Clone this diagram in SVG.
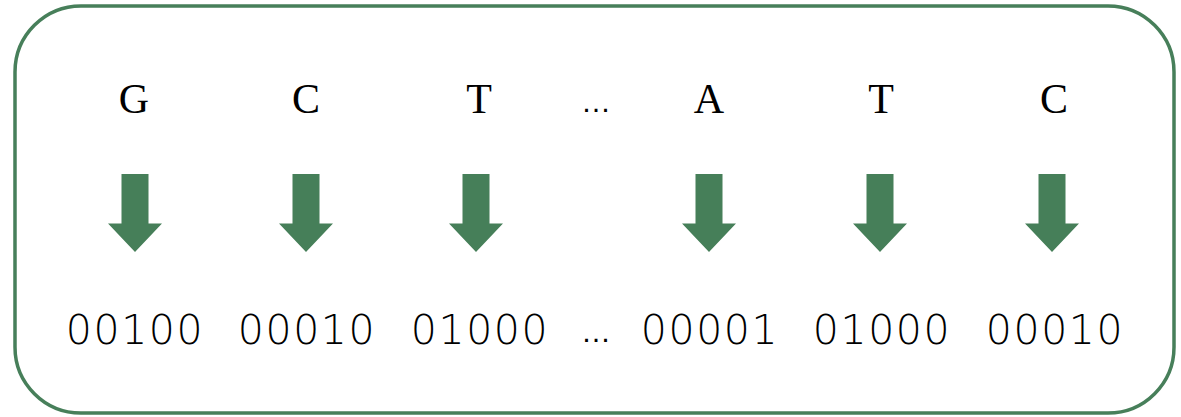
<svg xmlns="http://www.w3.org/2000/svg" width="1181" height="417" viewBox="0 0 1181 417">
  <style>
    .frame { fill: #ffffff; stroke: #477f5a; stroke-width: 3.5; }
    .base { font-family: "Liberation Serif", "Times New Roman", serif; font-size: 42px; fill: #000000; text-anchor: middle; }
    .code { font-family: "DejaVu Sans", "Liberation Sans", sans-serif; font-weight: 200; font-size: 41px; fill: #000000; text-anchor: middle; letter-spacing: 1.6px; }
    .dots { font-family: "Liberation Sans", Arial, sans-serif; font-size: 30px; fill: #000000; text-anchor: middle; }
    .arrow { fill: #467f59; }
  </style>
  <defs>
    <!-- block arrow pointing down, origin at shaft centre top -->
    <path id="down" class="arrow" d="M -13.5 0 H 13.5 V 49.5 H 27 L 0 78 L -27 49.5 H -13.5 Z"/>
  </defs>
  <rect class="frame" x="15" y="6" width="1159" height="407" rx="66" ry="66"/>

  <g id="col-G">
    <text class="base" x="134" y="113">G</text>
    <use href="#down" x="135" y="174"/>
    <text class="code" x="135" y="344">00100</text>
  </g>
  <g id="col-C1">
    <text class="base" x="306" y="113">C</text>
    <use href="#down" x="306" y="174"/>
    <text class="code" x="307" y="344">00010</text>
  </g>
  <g id="col-T1">
    <text class="base" x="479" y="113">T</text>
    <use href="#down" x="476" y="174"/>
    <text class="code" x="480" y="344">01000</text>
  </g>
  <g id="gap">
    <text class="dots" x="596" y="112">…</text>
    <text class="dots" x="596" y="342">…</text>
  </g>
  <g id="col-A">
    <text class="base" x="709" y="113">A</text>
    <use href="#down" x="709" y="174"/>
    <text class="code" x="710" y="344">00001</text>
  </g>
  <g id="col-T2">
    <text class="base" x="881" y="113">T</text>
    <use href="#down" x="880" y="174"/>
    <text class="code" x="882" y="344">01000</text>
  </g>
  <g id="col-C2">
    <text class="base" x="1054" y="113">C</text>
    <use href="#down" x="1052" y="174"/>
    <text class="code" x="1055" y="344">00010</text>
  </g>
</svg>
